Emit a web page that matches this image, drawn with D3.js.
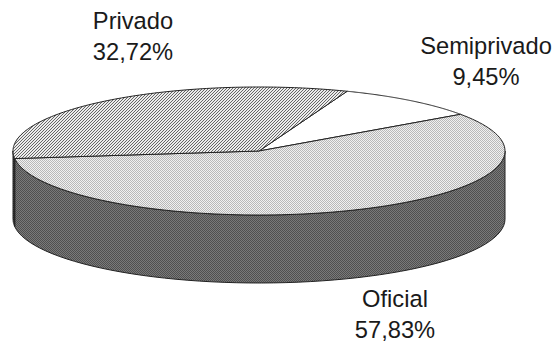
<!DOCTYPE html>
<html><head><meta charset="utf-8">
<script src="https://cdn.jsdelivr.net/npm/d3@7/dist/d3.min.js"></script>
<style>html,body{margin:0;padding:0;background:#fff}svg{display:block}text{font-family:"Liberation Sans",Arial,sans-serif;font-size:23.7px;fill:#1a1a1a}</style>
</head><body><script>
const categories = ["Semiprivado","Oficial","Privado"];
const values = [9.45,57.83,32.72];
const valueLabels = ["9,45%","57,83%","32,72%"];
const labelX = [486,395,133];
const labelY = [54,307,29];
const topFill = ["#fff","url(#pOficial)","url(#pPrivado)"];

const W=556,H=343,cx=259,cy=151,rx=246,ry=64,depth=68;
const svg=d3.select("body").append("svg").attr("width",W).attr("height",H);
const defs=svg.append("defs");
function pat(id,size,bg,fg,cells){
  const p=defs.append("pattern").attr("id",id).attr("width",size).attr("height",size).attr("patternUnits","userSpaceOnUse");
  p.append("rect").attr("width",size).attr("height",size).attr("fill",bg).attr("shape-rendering","crispEdges");
  cells.forEach(c=>p.append("rect").attr("x",c[0]).attr("y",c[1]).attr("width",1).attr("height",1).attr("fill",fg).attr("shape-rendering","crispEdges"));
}
pat("pPrivado",3,"#ececec","#666",[[2,0],[1,1],[0,2]]);
pat("pOficial",2,"#f0f0f0","#b8b8b8",[[0,0],[1,1]]);
pat("pSide",2,"#7a7a7a","#505050",[[0,0],[1,1]]);
pat("pSideDark",2,"#4a4a4a","#222",[[0,0],[1,1]]);

const pie=d3.pie().sort(null).startAngle(21*Math.PI/180).endAngle((360+21)*Math.PI/180);
const arcs=pie(values);
const px=d3.scaleLinear().domain([-1,1]).range([cx-rx,cx+rx]);
const py=d3.scaleLinear().domain([-1,1]).range([cy-ry,cy+ry]);
const pt=(a,d=0)=>[px(Math.sin(a)),py(-Math.cos(a))+d];

const sideFill=[null,"url(#pSide)","url(#pSideDark)"];
const line=d3.line();
arcs.forEach((s,i)=>{
  const a0=Math.max(s.startAngle,Math.PI/2), a1=Math.min(s.endAngle,Math.PI*1.5);
  if(a1<=a0) return;
  const as=d3.range(0,61).map(k=>a0+(a1-a0)*k/60);
  const pts=as.map(a=>pt(a)).concat(as.slice().reverse().map(a=>pt(a,depth)));
  svg.append("path").attr("d",line(pts)+"Z").attr("fill",sideFill[i]||"#888").attr("stroke","#222").attr("stroke-width",1).attr("stroke-linejoin","round");
});
arcs.forEach((s,i)=>{
  const as=d3.range(0,121).map(k=>s.startAngle+(s.endAngle-s.startAngle)*k/120);
  const pts=[[cx,cy]].concat(as.map(a=>pt(a)));
  svg.append("path").attr("d",line(pts)+"Z").attr("fill",topFill[i]).attr("stroke","#222").attr("stroke-width",1).attr("stroke-linejoin","round");
});
categories.forEach((c,i)=>{
  svg.append("text").attr("x",labelX[i]).attr("y",labelY[i]).attr("text-anchor","middle").text(c);
  svg.append("text").attr("x",labelX[i]).attr("y",labelY[i]+31).attr("text-anchor","middle").text(valueLabels[i]);
});
</script></body></html>
